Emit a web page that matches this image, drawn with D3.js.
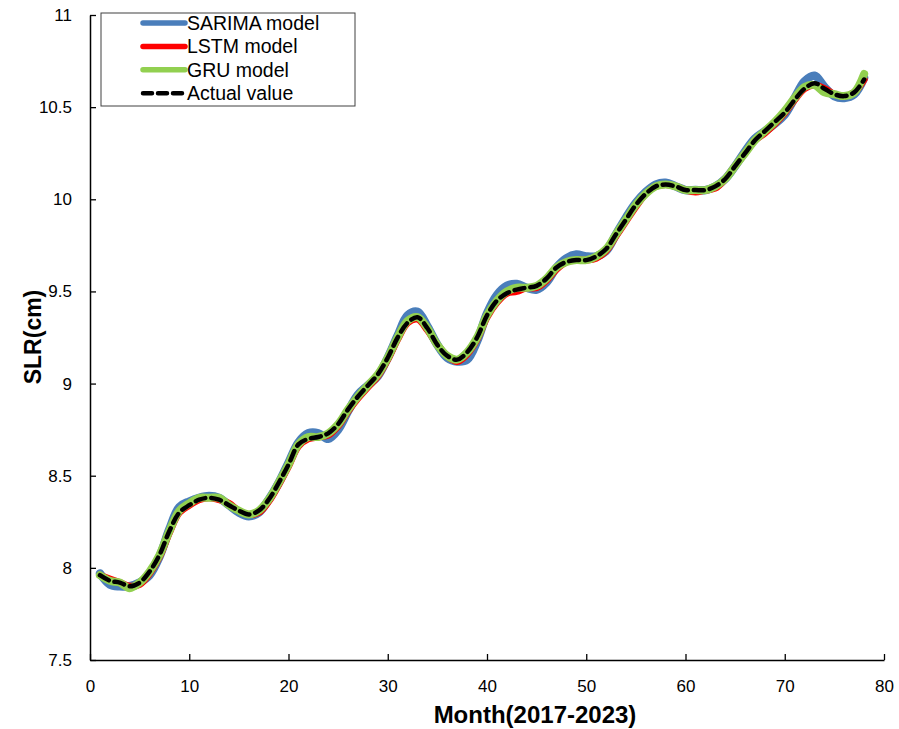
<!DOCTYPE html>
<html><head><meta charset="utf-8">
<script src="https://cdn.jsdelivr.net/npm/d3@7"></script>
<style>body{margin:0;background:#fff;}svg{display:block;font-family:"Liberation Sans",Arial,sans-serif;}</style>
</head><body>
<svg id="c" width="899" height="729"></svg>
<script>
const months = d3.range(1, 79);
const actual = [7.96,7.93,7.92,7.90,7.92,7.98,8.07,8.20,8.30,8.34,8.37,8.38,8.37,8.34,8.31,8.29,8.31,8.37,8.46,8.56,
8.67,8.70,8.71,8.73,8.78,8.86,8.93,8.99,9.05,9.14,9.25,9.33,9.36,9.30,9.21,9.15,9.13,9.17,9.25,9.37,
9.45,9.49,9.51,9.52,9.53,9.57,9.63,9.66,9.67,9.67,9.69,9.73,9.81,9.89,9.97,10.03,10.07,10.08,10.07,10.05,
10.05,10.05,10.07,10.11,10.18,10.25,10.32,10.37,10.42,10.47,10.54,10.60,10.63,10.60,10.57,10.56,10.58,10.65];
const sarima = [7.97,7.91,7.90,7.90,7.92,7.96,8.06,8.21,8.33,8.36,8.38,8.39,8.38,8.34,8.30,8.28,8.30,8.37,8.46,8.57,
8.68,8.73,8.73,8.70,8.75,8.85,8.94,8.99,9.04,9.14,9.26,9.37,9.39,9.31,9.21,9.14,9.12,9.13,9.23,9.38,
9.48,9.53,9.54,9.52,9.51,9.55,9.63,9.68,9.70,9.69,9.69,9.72,9.81,9.90,9.98,10.04,10.08,10.09,10.07,10.05,
10.05,10.05,10.07,10.11,10.18,10.26,10.33,10.37,10.41,10.46,10.55,10.64,10.67,10.61,10.56,10.55,10.57,10.66];
const lstm = [7.96,7.94,7.92,7.90,7.91,7.97,8.06,8.19,8.30,8.34,8.37,8.38,8.37,8.35,8.31,8.29,8.30,8.36,8.45,8.55,
8.66,8.70,8.71,8.72,8.77,8.85,8.92,8.98,9.04,9.13,9.24,9.33,9.35,9.29,9.21,9.15,9.12,9.16,9.24,9.36,
9.44,9.49,9.50,9.52,9.52,9.56,9.62,9.66,9.67,9.67,9.68,9.72,9.80,9.88,9.96,10.03,10.07,10.08,10.07,10.05,
10.04,10.05,10.06,10.11,10.18,10.25,10.32,10.36,10.41,10.47,10.54,10.60,10.62,10.60,10.57,10.56,10.58,10.65];
const gru = [7.96,7.93,7.92,7.89,7.92,7.98,8.07,8.20,8.31,8.35,8.38,8.38,8.38,8.34,8.31,8.29,8.31,8.37,8.46,8.56,
8.67,8.71,8.71,8.73,8.78,8.86,8.93,8.99,9.05,9.14,9.25,9.34,9.36,9.30,9.21,9.15,9.13,9.17,9.25,9.37,
9.45,9.50,9.52,9.52,9.53,9.57,9.63,9.66,9.67,9.67,9.69,9.73,9.81,9.89,9.97,10.03,10.07,10.08,10.07,10.05,
10.05,10.05,10.07,10.11,10.18,10.25,10.32,10.37,10.42,10.48,10.55,10.61,10.62,10.58,10.57,10.56,10.58,10.68];
const xTicks = [0,10,20,30,40,50,60,70,80];
const yTicks = [7.5,8,8.5,9,9.5,10,10.5,11];
const seriesNames = ["SARIMA model","LSTM model","GRU model","Actual value"];
const seriesColors = ["#4a7ebb","#ff0000","#92d050","#000000"];

const svg = d3.select("#c");
const L = 90, R = 884, T = 15, B = 660;
const x = d3.scaleLinear().domain([0,80]).range([L,R]);
const y = d3.scaleLinear().domain([7.5,11]).range([B,T]);

const line = d3.line().x((d,i)=>x(months[i])).y(d=>y(d)).curve(d3.curveCatmullRom.alpha(0.5));
const widths = [8.5,7,8];
[sarima,lstm,gru].forEach((s,k)=>{
  svg.append("path").attr("d",line(s)).attr("fill","none").attr("stroke",seriesColors[k])
    .attr("stroke-width",widths[k]).attr("stroke-linejoin","round").attr("stroke-linecap","round");
});
svg.append("path").attr("d",line(actual)).attr("fill","none").attr("stroke","#000")
  .attr("stroke-width",4.5).attr("stroke-dasharray","10,6").attr("stroke-linecap","round");

// axes
const xAxis = d3.axisBottom(x).tickValues(xTicks).tickSizeInner(-6).tickSizeOuter(0).tickPadding(20);
const gx = svg.append("g").attr("transform",`translate(0,${B})`).call(xAxis);
const yAxis = d3.axisLeft(y).tickValues(yTicks).tickSizeInner(-6).tickSizeOuter(0).tickPadding(18).tickFormat(d3.format("~g"));
const gy = svg.append("g").attr("transform",`translate(${L},0)`).call(yAxis);
[gx,gy].forEach(g=>{
  g.select(".domain").attr("stroke","#000").attr("stroke-width",1.5);
  g.selectAll(".tick line").attr("stroke","#000").attr("stroke-width",1.3);
  g.selectAll("text").attr("font-size",17).attr("fill","#000").attr("font-family","'Liberation Sans',Arial,sans-serif");
});
gx.selectAll("text").attr("dy","0.71em");

svg.append("text").attr("x",535).attr("y",723).attr("text-anchor","middle")
  .attr("font-size",24).attr("font-weight","bold").text("Month(2017-2023)");
svg.append("text").attr("transform","translate(41,337) rotate(-90)").attr("text-anchor","middle")
  .attr("font-size",23).attr("font-weight","bold").text("SLR(cm)");

// legend
const lg = svg.append("g");
lg.append("rect").attr("x",101).attr("y",13).attr("width",254).attr("height",93)
  .attr("fill","#fff").attr("stroke","#404040").attr("stroke-width",1);
seriesNames.forEach((n,i)=>{
  const yy = 23 + i*23.4;
  const l = lg.append("line").attr("x1",143).attr("x2",185).attr("y1",yy).attr("y2",yy)
    .attr("stroke",seriesColors[i]).attr("stroke-width",i<3?5.5:4.5).attr("stroke-linecap","round");
  if(i===3) l.attr("stroke-dasharray","9,6");
  lg.append("text").attr("x",187).attr("y",yy+7).attr("font-size",19.5).attr("fill","#000").text(n);
});
</script>
</body></html>
